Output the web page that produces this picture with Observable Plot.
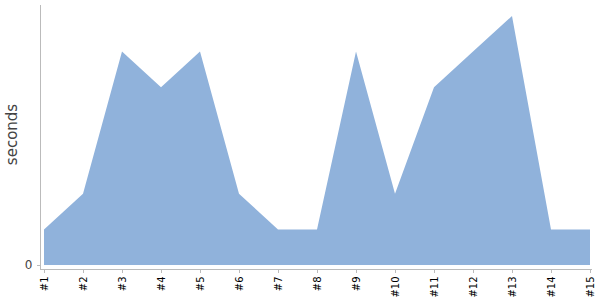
<!DOCTYPE html>
<html><head><meta charset="utf-8">
<script src="https://cdn.jsdelivr.net/npm/d3@7"></script>
<script src="https://cdn.jsdelivr.net/npm/@observablehq/plot@0.6"></script>
<style>body{margin:0;background:#fff}</style>
</head><body><div id="chart"></div>
<script>
const categories = ["#1","#2","#3","#4","#5","#6","#7","#8","#9","#10","#11","#12","#13","#14","#15"];
const seconds = [1,2,6,5,6,2,1,1,6,2,5,6,7,1,1];
const yTicks = [0];
const data = categories.map((c,i)=>({cat:c, v:seconds[i]}));
const chart = Plot.plot({
  width:600, height:300,
  marginLeft:40, marginRight:9, marginTop:5, marginBottom:31,
  style:{fontFamily:"DejaVu Sans", background:"#fff"},
  x:{type:"point", domain:categories, padding:0, insetLeft:3, insetRight:1},
  y:{domain:[0,7], insetTop:11, insetBottom:4},
  marks:[
    Plot.areaY(data,{x:"cat", y:"v", fill:"#90b2db", curve:"linear"}),
    Plot.frame({anchor:"left", stroke:"#bbb"}),
    Plot.frame({anchor:"bottom", stroke:"#bbb"}),
    Plot.axisX({tickRotate:-90, tickSize:4, tickPadding:3, fontSize:10, fill:"#000", stroke:"#bbb", label:null, tickFormat:d=>d}),
    Plot.axisY(yTicks,{tickSize:3, tickPadding:5, fontSize:12, fill:"#444", stroke:"#bbb", label:"seconds", labelAnchor:"center", labelArrow:"none", labelOffset:34}),
  ]
});
chart.querySelectorAll('[aria-label="y-axis label"]').forEach(g=>{g.setAttribute("transform",(g.getAttribute("transform")||"")+" translate(0,-3)");});
chart.querySelectorAll('[aria-label="y-axis label"] text').forEach(t=>{t.style.fontSize="15px";t.setAttribute("fill","#444");});
document.getElementById("chart").appendChild(chart);
</script></body></html>
